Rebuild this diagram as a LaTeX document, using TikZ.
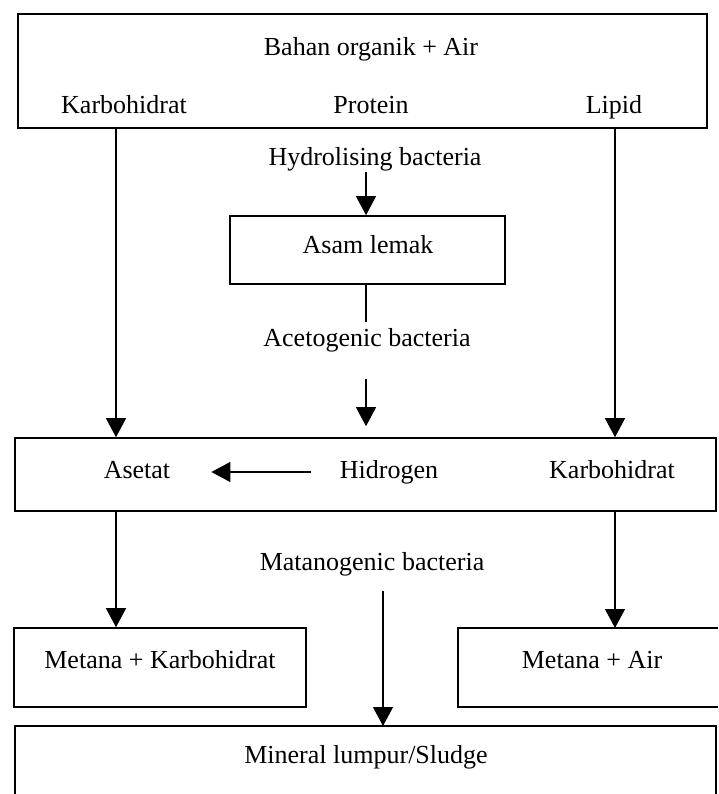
\documentclass[tikz,border=0pt]{standalone}
\usepackage{fontspec}
\setmainfont{Liberation Serif}
\usetikzlibrary{arrows.meta,calc}
\begin{document}
\begin{tikzpicture}[x=1pt,y=-1pt,
  frame/.style={draw, line width=1.6pt, inner sep=0pt},
  edgeline/.style={line width=1.6pt},
  lbl/.style={font=\fontsize{26}{30}\selectfont, inner sep=0pt,
              text height=18pt, text depth=5pt, yshift=-2pt},
  link/.style={line width=1.1pt},
  flow/.style={link, -{Triangle[length=19pt,width=20pt]}},
]
\useasboundingbox (0,0) rectangle (718,794);

% columns of the vertical connectors
\coordinate (colL)  at (116,0);
\coordinate (colR)  at (615,0);
\coordinate (colM)  at (366,0);
\coordinate (colM2) at (383,0);

% source material
\node[frame, minimum width=689pt, minimum height=114pt] (src) at (362.5,71) {};
\node[lbl] (bahan) at (371,47)  {Bahan organik + Air};
\node[lbl] (karb)  at (124,105) {Karbohidrat};
\node[lbl] (prot)  at (371,105) {Protein};
\node[lbl] (lipid) at (614,105) {Lipid};

% hydrolysis
\node[lbl] (hydro) at (375,157) {Hydrolising bacteria};
\node[frame, minimum width=275pt, minimum height=68pt] (asam) at (367.5,250) {};
\node[lbl] (asamtxt) at (368,245) {Asam lemak};

% acetogenesis
\node[lbl] (aceto) at (367,338) {Acetogenic bacteria};
\node[frame, minimum width=701pt, minimum height=73pt] (mix) at (365.5,474.5) {};
\node[lbl] (asetat) at (137,470) {Asetat};
\node[lbl] (hidro)  at (389,470) {Hidrogen};
\node[lbl] (karb2)  at (612,470) {Karbohidrat};

% methanogenesis
\node[lbl] (matano) at (372,562) {Matanogenic bacteria};
\node[frame, minimum width=292pt, minimum height=79pt] (metkarb) at (160,667.5) {};
\node[lbl] (metkarbtxt) at (160,660) {Metana + Karbohidrat};

\coordinate (mairTL) at (458,628);
\coordinate (mairBL) at (458,707);
\draw[edgeline] (718,628) -- (mairTL) -- (mairBL) -- (718,707);
\node[lbl] (metairtxt) at (592,660) {Metana + Air};

% sludge
\coordinate (sludgeTL) at (15,726);
\coordinate (sludgeTR) at (716,726);
\draw[edgeline] (15,794) -- (sludgeTL) -- (sludgeTR) -- (716,794);
\node[lbl] (sludge) at (366,755) {Mineral lumpur/Sludge};

% connectors
\draw[flow] (src.south -| colL) -- (mix.north -| colL);
\draw[flow] (src.south -| colR) -- (mix.north -| colR);
\draw[flow] ($(hydro.south -| colM)+(0,1)$) -- (asam.north -| colM);
\draw[link] (asam.south -| colM) -- (366,322);
\draw[flow] ($(aceto.south -| colM)+(0,27)$) -- ($(mix.north -| colM)+(0,-11)$);
\draw[flow] ($(hidro.west)+(-29,0)$) -- ($(asetat.east)+(41,0)$);
\draw[flow] (mix.south -| colL) -- (metkarb.north -| colL);
\draw[flow] (mix.south -| colR) -- (mairTL -| colR);
\draw[flow] ($(matano.south -| colM2)+(0,15)$) -- (sludgeTL -| colM2);
\end{tikzpicture}
\end{document}
